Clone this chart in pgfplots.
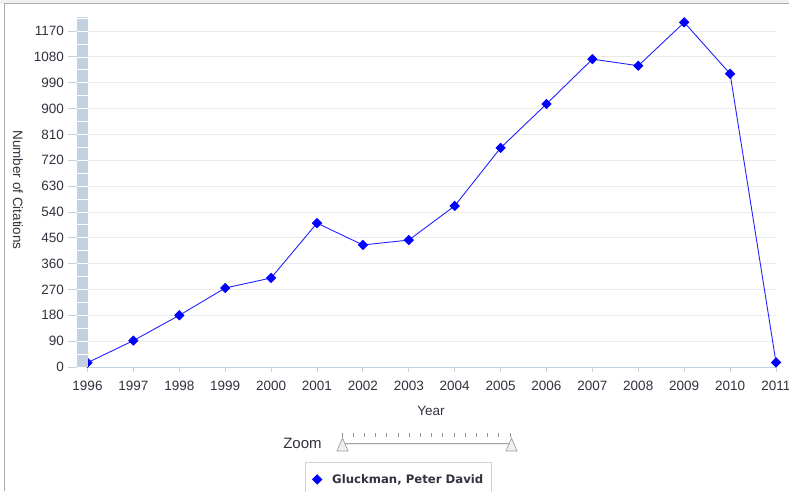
\documentclass[border=0pt]{standalone}
\usepackage{fontspec}
\setmainfont{Liberation Sans}
\newfontfamily\legfont{DejaVu Sans}
\usepackage{pgfplots}
\pgfplotsset{compat=1.18}
\definecolor{band}{HTML}{C2D0E0}
\definecolor{axcol}{HTML}{C4D2E2}
\definecolor{gridc}{HTML}{EBEBEB}
\definecolor{txt}{HTML}{333340}
\definecolor{ser}{HTML}{2222FF}
\begin{document}
\begin{tikzpicture}[x=1pt,y=1pt]
\useasboundingbox (0,0) rectangle (789,491);
\fill[white] (0,0) rectangle (789,491);
\fill[gray!12] (0,487) rectangle (789,491);
\draw[gray!65, line width=1pt] (4,0) -- (4,487) -- (789,487);
\begin{axis}[
  at={(87.5pt,124pt)}, anchor=south west,
  scale only axis, width=688.5pt, height=350pt,
  xmin=1996, xmax=2011, ymin=0, ymax=1218.7,
  xtick={1996,...,2011}, ytick={0,90,...,1170},
  axis lines*=left,
  y axis line style={draw=none},
  x axis line style={axcol, line width=1pt},
  ymajorgrids, grid style={gridc, line width=0.8pt},
  tick align=outside, major tick length=5pt,
  xtick style={axcol, line width=0.8pt},
  ytick style={draw=none},
  tick label style={font=\fontsize{13.5}{16}\selectfont, text=txt},
  yticklabel style={xshift=-15pt},
  xticklabel style={yshift=-6pt},
  /pgf/number format/.cd, 1000 sep={}, assume math mode=true,
  /pgfplots/.cd,
  ylabel={Number of Citations},
  ylabel style={at={(axis description cs:-0.1010,0.5057)}, anchor=center, rotate=180, font=\fontsize{13.5}{16}\selectfont, text=txt},
  xlabel={Year},
  xlabel style={at={(axis description cs:0.4989,-0.1250)}, anchor=center, font=\fontsize{13.5}{16}\selectfont, text=txt},
  legend style={at={(axis description cs:0.3159,-0.2714)}, anchor=north west, draw=gray!35, fill=white,
    font=\legfont\bfseries\fontsize{11.7}{13}\selectfont, text=txt, inner xsep=6pt, inner ysep=10pt},
  legend image code/.code={\path[draw=none, fill=none] (0pt,0pt) -- (19pt,0pt);
    \draw[only marks, mark=square*, mark size=3.2pt, mark options={rotate=45, fill=blue, draw=blue}] plot coordinates {(6pt,0pt)};},
]
\addplot[ser, line width=0.9pt, mark=square*, mark size=3.2pt, mark options={rotate=45, fill=blue, draw=blue}] coordinates {
(1996,15) (1997,92) (1998,180) (1999,275) (2000,310) (2001,501) (2002,425) (2003,442)
(2004,561) (2005,763) (2006,916) (2007,1072) (2008,1049) (2009,1200) (2010,1021) (2011,16)};
\addlegendentry{Gluckman, Peter David}
\end{axis}
% left wall band and y tick dashes
\fill[band] (77,124) rectangle (87.5,474);
\foreach \i in {1,...,27} \draw[white, line width=0.8pt] (77,124+\i*12.92) -- (87.5,124+\i*12.92);
\foreach \i in {0,...,13} \draw[axcol, line width=0.8pt] (68,124+\i*25.846) -- (77,124+\i*25.846);
% zoom slider
\node[font=\fontsize{15}{18}\selectfont, text=txt] at (302.5,48) {Zoom};
\draw[gray!70, line width=2.4pt] (343,47) -- (512,47);
\draw[gray!15, line width=0.8pt] (343,47) -- (512,47);
\foreach \i in {0,...,15} \draw[gray!85, line width=0.7pt] (342+\i*11.2,54.5) -- (342+\i*11.2,58.5);
\filldraw[fill=gray!12, draw=gray!75, line width=0.7pt] (337,40) -- (348,40) -- (342.5,53) -- cycle;
\filldraw[fill=gray!12, draw=gray!75, line width=0.7pt] (506,40) -- (517,40) -- (511.5,53) -- cycle;
\end{tikzpicture}
\end{document}
